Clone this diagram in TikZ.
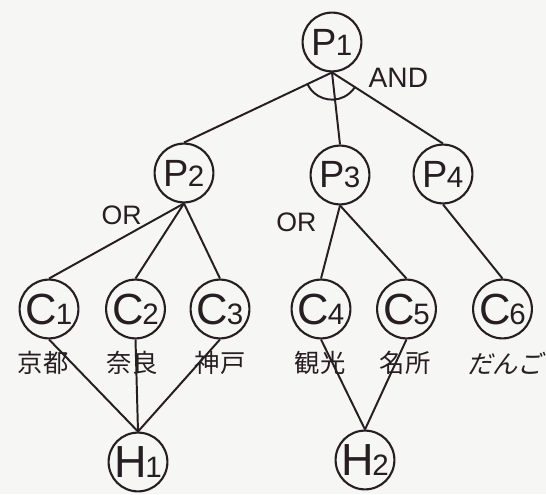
\documentclass[tikz,border=0pt]{standalone}
\usepackage{fontspec}
\setmainfont{Liberation Sans}
\newfontfamily\jpfont{Noto Sans CJK JP}
\newfontfamily\jpslant[FakeSlant=0.22]{Noto Sans CJK JP}
\usepackage{tikz}
\usepackage{xcolor}

\definecolor{ink}{RGB}{38,30,34}
\definecolor{paper}{RGB}{246,246,245}

% letter with a small index digit
\newcommand{\nodelabel}[2]{#1\kern-0.03em{\fontsize{21}{21}\selectfont #2}}

\tikzset{
  goal/.style={draw=ink, circle, line width=1.5pt, minimum size=1.47cm,
    inner sep=0pt, text=ink},
  pnode/.style={goal, font=\fontsize{27}{27}\selectfont},
  cnode/.style={goal, font=\fontsize{31}{31}\selectfont},
  hnode/.style={goal, font=\fontsize{32}{32}\selectfont},
  word/.style={text=ink, font=\jpfont\fontsize{18}{18}\selectfont},
  logic/.style={text=ink, font=\fontsize{19}{19}\selectfont},
  edge/.style={draw=ink, line width=1.4pt}
}

\begin{document}
\begin{tikzpicture}
            \fill[paper] (0,0) rectangle (13.65,12.35);
            \useasboundingbox (0,0) rectangle (13.65,12.35);

            % goals
            \node[pnode] (P1) at (8.30,11.30) {\nodelabel{P}{1}};
            \node[pnode] (P2) at (4.60,8.025) {\nodelabel{P}{2}};
            \node[pnode] (P3) at (8.50,7.975) {\nodelabel{P}{3}};
            \node[pnode] (P4) at (11.075,8.00) {\nodelabel{P}{4}};

            % conditions
            \node[cnode] (C1) at (1.225,4.625) {\nodelabel{C}{1}};
            \node[cnode] (C2) at (3.3875,4.625) {\nodelabel{C}{2}};
            \node[cnode] (C3) at (5.50,4.625) {\nodelabel{C}{3}};
            \node[cnode] (C4) at (8.025,4.625) {\nodelabel{C}{4}};
            \node[cnode] (C5) at (10.1625,4.625) {\nodelabel{C}{5}};
            \node[cnode] (C6) at (12.5625,4.625) {\nodelabel{C}{6}};

            \node[word] (w1) at (1.075,3.275) {京都};
            \node[word] (w2) at (3.30,3.275) {奈良};
            \node[word] (w3) at (5.50,3.275) {神戸};
            \node[word] (w4) at (8.00,3.275) {観光};
            \node[word] (w5) at (10.125,3.275) {名所};
            \node[word, font=\jpslant\fontsize{18}{18}\selectfont] (w6) at (12.625,3.275) {だんご};

            % hypotheses
            \node[hnode] (H1) at (3.45,0.80) {\nodelabel{H}{1}};
            \node[hnode] (H2) at (9.125,0.85) {\nodelabel{H}{2}};

            \foreach \p in {P2,P3,P4}
              \draw[edge] (P1.south) -- (\p.north);
            \foreach \c in {C1,C2,C3}
              \draw[edge] (P2.south) -- (\c.north);
            \foreach \c in {C4,C5}
              \draw[edge] (P3.south) -- (\c.north);
            \draw[edge] (P4.south) -- (C6.north);

            \foreach \c in {C1,C2,C3}
              \draw[edge] (\c.south) -- (H1.north);
            \foreach \c in {C4,C5}
              \draw[edge] (\c.south) -- (H2.north);

            % AND arc
            \draw[edge] ([shift={(206:0.68)}]P1.south) arc[start angle=206, end angle=327, radius=0.68];

            \node[logic, font=\fontsize{20}{20}\selectfont] (and) at (9.96,10.41) {AND};
            \node[logic] (or1) at (3.04,6.96) {OR};
            \node[logic] (or2) at (7.41,6.79) {OR};
        \end{tikzpicture}
\end{document}
